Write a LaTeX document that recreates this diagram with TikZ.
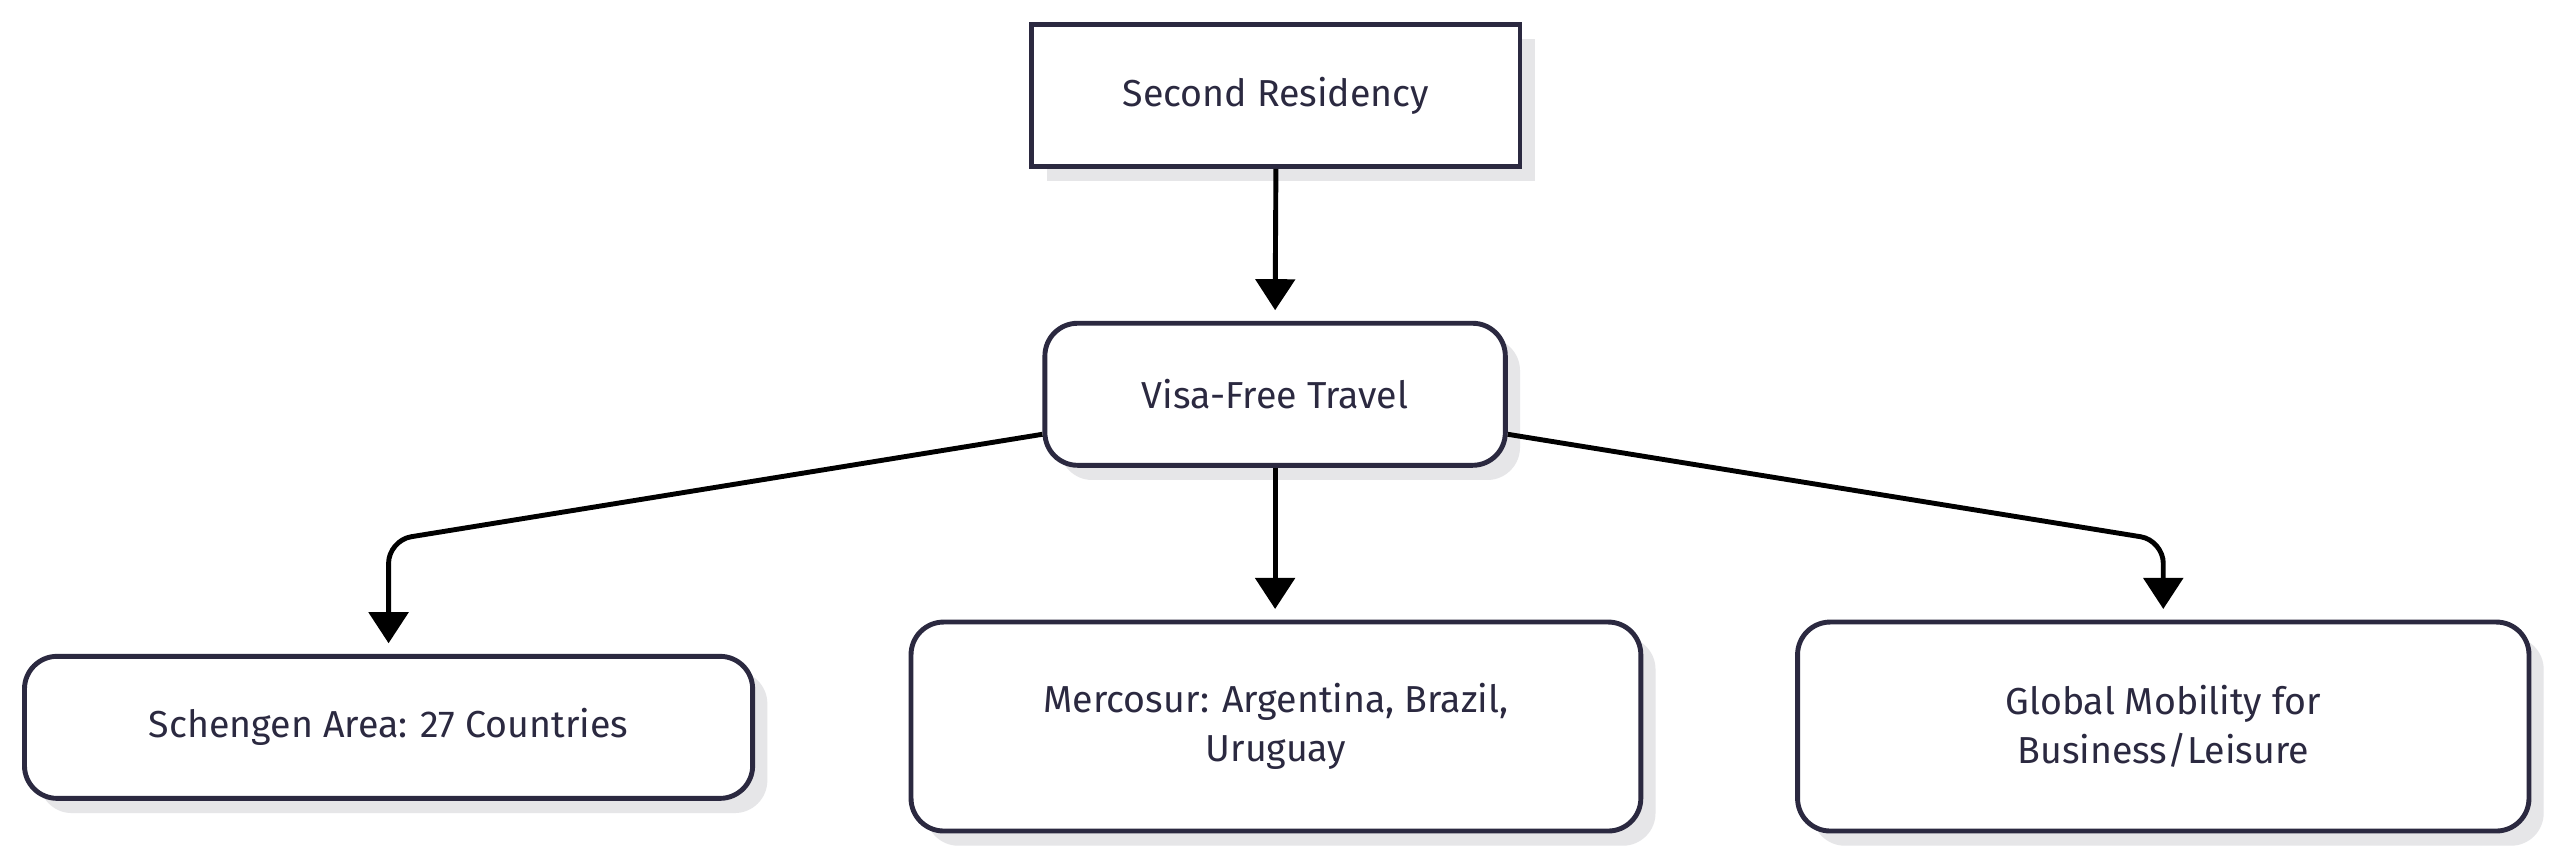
\documentclass[tikz,border=0pt]{standalone}
\usepackage{fontspec}
\setmainfont{Fira Sans}
\usetikzlibrary{arrows.meta}
\definecolor{ink}{HTML}{2B2940}
\definecolor{shad}{HTML}{E6E6E8}
\begin{document}
\begin{tikzpicture}[x=1pt,y=1pt,
  box/.style={draw=ink,line width=3pt,fill=white,text=ink,font=\fontsize{23}{30}\selectfont,align=center},
  arr/.style={line width=3pt,-{Triangle[width=24pt,length=19pt]},rounded corners=14pt}]
\useasboundingbox[fill=white] (0,0) rectangle (1568,-526);
\foreach \a/\b/\c/\d/\r in {632/15/931/102/0,640/198/922/285/20,15/402/461/489/20,558/381/1005/509/20,1101/381/1549/509/20}{
  \fill[shad,rounded corners=\r] (\a+9,-\b-9) rectangle (\c+9,-\d-9);}
\node[box,minimum width=299,minimum height=87] (sr) at (781.5,-58.5) {Second Residency};
\node[box,rounded corners=20,minimum width=282,minimum height=87] (vf) at (781,-241.5) {Visa-Free Travel};
\node[box,rounded corners=20,minimum width=446,minimum height=87] (sa) at (238,-445.5) {Schengen Area: 27 Countries};
\node[box,rounded corners=20,minimum width=447,minimum height=128] (me) at (781.5,-445) {Mercosur: Argentina, Brazil,\\Uruguay};
\node[box,rounded corners=20,minimum width=448,minimum height=128] (gm) at (1325,-445) {Global Mobility for\\Business/Leisure};
\coordinate (t1) at (781,-190);
\coordinate (t2) at (781,-373);
\coordinate (t3) at (238,-394);
\coordinate (t4) at (1325,-373);
\draw[arr] (sr.south) -- (t1);
\draw[arr] (vf.south) -- (t2);
\draw[arr] (vf.west|-0,-266) -- (238,-331) -- (t3);
\draw[arr] (vf.east|-0,-266) -- (1325,-331) -- (t4);
\end{tikzpicture}
\end{document}
